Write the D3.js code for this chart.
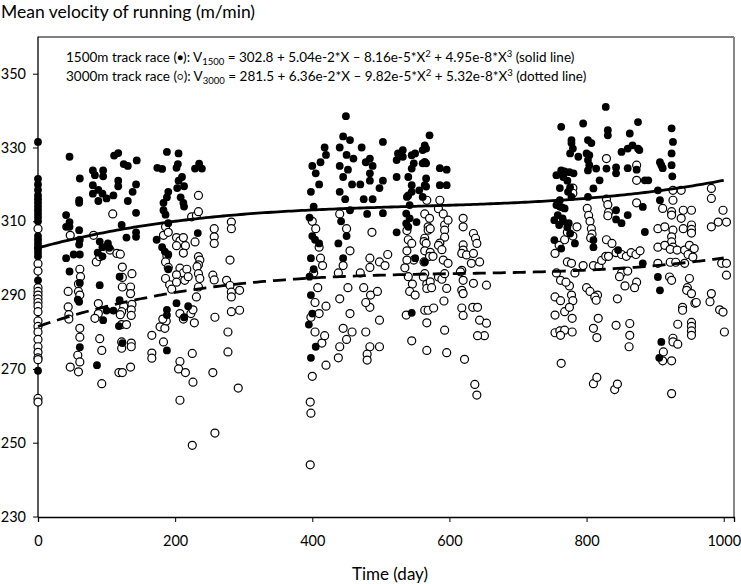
<!DOCTYPE html>
<html>
<head>
<meta charset="utf-8">
<script src="https://cdn.jsdelivr.net/npm/d3@7"></script>
<style>
  body { margin: 0; background: #fff; }
  text { font-family: Lato, "Noto Sans", sans-serif; fill: #000; }
</style>
</head>
<body>
<script>
// 1500m race (filled dots): [day, m/min]
var race1500 = [
  [0,331.5],[0,321.5],[0,320],[0,318.5],[0,317],[0,316],[0,315],[0,314],[0,313],[0,312],[0,311],[0,310],
  [0,306],[0,305],[0,304],[0,303],[0,302.5],[0,301.5],[0,300.5],[0,294],[0,269.5],
  [46,327.5],[41,311.7],[41,308.5],[46,308.5],[46,309.8],[60,315.7],[60,315],[61,321.6],[60,307.6],[61,305],
  [60,303.7],[41,300],[46,296.4],[52,301],[61,301],[61,293.3],[58,288.8],[60,288.2],[61,275.9],
  [80,323.8],[95,323.8],[83,322.5],[95,322.2],[80,319.8],[88,318.5],[94,317.5],[80,317.5],[88,315.5],[100,316.2],
  [90,304.5],[94,303],[102,304],[104,302.8],[87,301.5],[94,300.5],[90,292.7],[95,283.2],[86,271],[100,285.8],[110,285.8],
  [111,327.8],[117,328.5],[125,325.5],[131,325],[117,321],[117,319.5],[110,317],[131,315.5],[122,309],[129,305.6],
  [143,307],[143,305.8],[143,312.3],[144,326.5],[138,318],[143,320],[119,295],[119,288.6],[118,281.6],[123,277],
  [174,324.5],[181,324.2],[188,328.8],[205,328.4],[204,325.5],[202,324.5],[210,322],[205,321],[203,319],[213,319.5],
  [190,318],[188,316.5],[183,315],[183,313],[186,311.8],[208,316.5],[212,315],[213,314],[190,309.5],[173,305],
  [181,303],[185,301.8],[190,301],[190,297],[188,286],[188,284.6],[188,275],[213,284],[219,287],[202,287.8],
  [229,324.3],[235,325.6],[239,324.3],[233,306.8],
  [400,325],[405,323],[410,320],[412,326],[418,330],[420,328],[398,318],[402,314],[396,311],[400,306],[404,305],
  [410,304],[398,300],[402,297],[396,295],[398,290],[400,285],[395,282],[398,273],[405,276],
  [449,338.5],[445,333],[455,332],[440,330],[450,328],[460,327],[440,325],[452,324],[445,322],[458,320],[440,318],
  [448,316],[455,313],[442,310],[450,306],[438,304],[445,300],
  [503,331.5],[484,327],[488,325],[484,323],[484,321],[503,321],[498,319],[488,316],[503,312.2],[472,330],[478,326],
  [470,320],[475,316],[480,312],
  [525,328.4],[532,329.3],[523,326.6],[532,327.5],[545,327.9],[550,328.4],[548,325.7],[545,324.3],[523,322],[540,322],
  [545,319.8],[538,316.6],[540,317],[545,318],[556,318.4],[542,314.4],[537,312.1],[542,310.8],[537,309.4],[540,308.5],
  [552,309.8],[523,307],[550,300],[564,299],[545,285.2],
  [571,333.3],[564,330.6],[561,329.3],[566,329.7],[564,326.1],[566,325.7],[561,325.7],[566,321.6],[564,319.8],[566,319.4],
  [561,316.6],[586,324.4],[596,324],[586,319.8],[596,319.8],
  [763,335.6],[778,332],[778,331.2],[780,329.7],[776,328.4],[788,327.5],[756,322.5],[763,323.8],[768,323.5],[775,323.3],
  [781,323],[766,322],[772,321],[776,319.2],[773,318],[778,316.6],[761,319],[761,315.7],[756,314.4],[761,314],[764,313.8],
  [768,313.5],[758,311.7],[765,310.8],[753,310.3],[760,309],[766,310],[772,308.4],[776,306.7],[774,309.5],[753,304.9],
  [763,302.6],[783,304],
  [828,341],[795,336.5],[802,332],[807,331.2],[800,328.4],[804,327.9],[802,326.6],[804,325.2],[802,323.8],[831,334.7],
  [831,333.3],[814,324.3],[829,324.3],[810,318.9],[819,321.1],[802,316.6],[810,304.9],[810,303],[846,302.2],
  [843,324.6],[843,323],[843,313],[843,310.5],[851,309.5],[860,311.7],[863,333.8],[875,336.9],[860,329.7],[867,330.6],
  [875,329.7],[877,329.3],[851,328.8],[860,324.4],[873,324],[882,313.9],[885,307.1],[885,321.1],[890,321.1],[904,318.4],
  [907,315.7],[882,298.6],[904,294.9],
  [924,335.2],[926,331.5],[924,328.4],[924,325.2],[925,322.2],[907,326],[909,325.2],[911,324.4],[907,291.3],[909,277.3],[906,273]
];

// 3000m race (open circles): [day, m/min]
var race3000 = [
  [0,308],[0,298.5],[0,296.5],[0,292],[0,291],[0,290],[0,289],[0,288],[0,287],[0,285.5],[0,283],[0,281.5],[0,280],
  [0,278],[0,276],[0,274.5],[0,273],[0,272.5],[0,262],[0,261],
  [47,306.2],[61,297],[62,295],[59,293],[59,291],[61,290],[44,291],[44,286.8],[45,284.7],[45,283.5],[61,281],
  [61,278.6],[58,273.7],[61,271.9],[47,270.5],[59,269.2],
  [81,306.2],[85,299],[90,300.4],[88,287.7],[88,285],[83,283.7],[90,278.2],[93,275],[93,266],
  [109,312],[105,302.2],[115,301.3],[120,301.1],[123,297.6],[123,294.8],[123,292.2],[137,295.8],[135,292.2],[135,290.4],
  [137,287.5],[136,286],[136,284.5],[125,287],[122,285.5],[120,284.7],[122,282],[129,282],[122,277.3],[122,275.6],
  [118,269],[123,269],[136,277],[136,276],[135,270.5],
  [183,306.2],[186,308.5],[190,307],[188,300.6],[186,299],[190,297.5],[186,294.5],[192,292.8],[195,291.6],[202,305.6],
  [207,304.7],[212,305.6],[202,303.4],[215,303.4],[212,301.4],[207,297.3],[212,296],[217,297],[214,294],[219,295],
  [202,295.5],[202,293.5],[178,281.4],[183,277.3],[166,279.1],[166,274.3],[166,272.9],[185,281],[187,283],[182,283.5],
  [207,285],[212,283.5],[223,285],[226,286],[228,282.5],[207,272],[205,270],[215,269],[207,261.5],[225,274.2],
  [226,266.4],[225,249.3],
  [224,311.2],[231,311.6],[234,312.6],[234,317],[229,304.4],[234,300.4],[236,299.5],[234,298.2],[232,297.7],[234,295.8],
  [236,294.5],[234,292.2],[231,289.5],
  [257,308],[257,305.8],[257,304],[255,295.4],[257,294.1],[258,284],[255,269],[258,252.6],
  [282,309.8],[282,308],[280,299.5],[275,294],[280,292.6],[282,290.8],[282,289.5],[294,291.3],[294,285.9],[282,285.5],
  [277,280],[277,274.6],[292,264.8],
  [400,310],[405,308],[410,303],[412,300],[402,296],[415,298],[408,292],[404,288],[410,285],[398,284],[420,287],
  [404,280],[414,277],[418,279],[400,268],[420,271],[397,261],[398,258],[397,244],
  [440,312],[450,308],[455,302],[445,298],[438,296],[452,292],[440,289],[455,285],[445,281],[450,278],[440,276],
  [458,280],[438,273],
  [487,307],[484,300],[498,299],[506,298],[510,301],[484,297.5],[484,286.7],[484,276],[498,283.2],[498,276],
  [480,274],[480,272.4],[478,280],[470,296],[475,292],[478,288],[485,290],[495,291],
  [538,307.5],[540,305],[538,302],[545,304],[548,299.5],[538,299.5],[535,297.4],[540,295],[546,293],[542,291],
  [550,290],[537,284.6],[545,277.6],
  [567,315.7],[564,312],[571,310.8],[569,308.5],[569,307.6],[572,308],[564,305.4],[563,304.5],[566,304],[564,302],
  [572,301.6],[571,300.5],[576,300.5],[563,299],[564,295.8],[562,294.9],[567,293],[567,291.8],[572,293.6],[574,292],
  [564,285.9],[569,285.9],[567,282.5],[577,286.5],[567,275],
  [586,315.7],[584,313.4],[591,312],[593,309],[598,310.3],[593,307.6],[593,305.7],[586,304.1],[584,303.5],[589,302.3],
  [591,299.5],[598,298.6],[584,294.9],[589,294.3],[593,295.8],[596,291.8],[592,288.4],[593,280.5],[596,274.4],
  [620,310.8],[620,308.5],[620,303.6],[620,302.2],[618,301.3],[625,300.9],[635,306.7],[638,305.4],[640,304],[635,301.3],
  [632,298.6],[644,299],[618,296.7],[616,296.3],[620,294],[618,291.3],[620,290.4],[635,293.2],[654,292.7],
  [618,286.5],[620,284.5],[634,286.7],[641,286.7],[644,283.2],[654,282.4],[651,279],[641,279],[622,272.6],
  [637,265.8],[640,262.9],
  [754,301.3],[760,303.5],[768,305],[772,307],[780,306],[786,308.5],[780,319],[780,317.6],[772,299],[778,298.6],
  [756,296],[762,294],[775,292.5],[770,293.5],[783,296],[754,289.5],[762,288.5],[778,290],[780,288.5],
  [754,284.6],[768,285.5],[775,286.7],[779,283.7],[754,279.8],[761,280.3],[768,280.5],[762,279.1],[779,280],[763,271.5],
  [801,313.5],[803,311.6],[805,310],[807,308],[808,306.5],[806,305.5],[829,327],[829,316],[831,314.5],[832,312.4],
  [831,311.5],[829,305],[837,304],[795,298],[810,298],[818,297.8],[822,299.4],[828,300.5],[832,300.5],[800,292],
  [805,291],[816,290],[812,289.5],[814,288.6],[817,283.7],[810,281],[815,278.5],[810,266],[815,267.7],[843,281.8],
  [841,264.4],[845,265.9],[863,282.3],[863,279.1],[862,276],
  [843,301.5],[851,301],[858,300.5],[865,301.5],[872,301],[878,302],[873,325.2],[873,321.1],[873,315],[873,293.5],
  [851,296],[860,296.5],[848,295],[856,292.5],[870,292],[845,289],
  [926,318.4],[938,318.4],[926,315.7],[911,313.5],[924,312.6],[924,311.7],[941,313],[938,310.8],[953,313],[904,308],
  [914,308.5],[926,307.6],[924,305.8],[924,304.4],[941,308],[953,309],[953,307.8],[953,306.8],[904,303],[914,303.5],
  [926,303],[922,302.4],[932,302.2],[943,302.2],[950,303.5],[957,302.6],[948,301],[955,300.3],[904,298.6],[922,298.9],
  [930,298.9],[943,298.6],[921,294.9],[924,294],[950,294.5],[947,292],[946,291.3],[953,290.4],
  [926,278.3],[926,277.3],[933,276.7],[912,274.6],[911,272.2],[924,272.2],[924,263.3],[933,282.1],[953,282.6],
  [953,281.5],[953,280.3],[953,279.1],[940,286.7],[940,285.9],[958,287.8],[960,288],
  [982,318.9],[982,316.2],[999,313],[992,309.8],[1004,309.8],[982,308.5],[997,298.6],[1004,298.6],[1004,295.4],
  [982,290.4],[994,286],[999,285.4],[1001,280],[980,288.2]
];

// cubic fits: a + b*X + c*X^2 + d*X^3
var fit1500 = [302.8, 5.04e-2, -8.16e-5, 4.95e-8];
var fit3000 = [281.5, 6.36e-2, -9.82e-5, 5.32e-8];

var yTicks = [230, 250, 270, 290, 310, 330, 350];
var xTicks = [0, 200, 400, 600, 800, 1000];

var width = 741, height = 584;
var svg = d3.select("body").append("svg")
  .attr("width", width)
  .attr("height", height);

var x = d3.scaleLinear().domain([0, 1015]).range([38, 734]);
var y = d3.scaleLinear().domain([230, 360]).range([516.5, 36.8]);

// frame
svg.append("line").attr("x1", 38).attr("x2", 734).attr("y1", 37).attr("y2", 37)
  .attr("stroke", "#000").attr("stroke-width", 1);
svg.append("line").attr("x1", 734).attr("x2", 734).attr("y1", 37).attr("y2", 517)
  .attr("stroke", "#888").attr("stroke-width", 2);

// axes
var yAxis = svg.append("g")
  .attr("transform", "translate(38,0)")
  .call(d3.axisLeft(y).tickValues(yTicks).tickSize(5).tickPadding(7));
var xAxis = svg.append("g")
  .attr("transform", "translate(0,517)")
  .call(d3.axisBottom(x).tickValues(xTicks).tickFormat(d3.format("d")).tickSize(5).tickPadding(14));
[yAxis, xAxis].forEach(function (g) {
  g.select(".domain").attr("stroke", "#000").attr("stroke-width", 1.3);
  g.selectAll(".tick line").attr("stroke", "#000");
  g.selectAll("text").style("font-size", "14.5px").style("font-family", "Lato, sans-serif");
});
yAxis.select(".domain").attr("d", "M0,36.8V517");

// points
svg.append("g").selectAll("circle")
  .data(race3000).enter().append("circle")
  .attr("cx", function (d) { return x(d[0]); })
  .attr("cy", function (d) { return y(d[1]); })
  .attr("r", 4)
  .attr("fill", "#fff").attr("stroke", "#000").attr("stroke-width", 1.2);

svg.append("g").selectAll("circle")
  .data(race1500).enter().append("circle")
  .attr("cx", function (d) { return x(d[0]); })
  .attr("cy", function (d) { return y(d[1]); })
  .attr("r", 3.9)
  .attr("fill", "#000");

// fitted curves
function poly(c, t) { return c[0] + c[1] * t + c[2] * t * t + c[3] * t * t * t; }
var days = d3.range(0, 1001, 5);
var line = d3.line()
  .x(function (d) { return x(d[0]); })
  .y(function (d) { return y(d[1]); });

svg.append("path")
  .attr("d", line(days.map(function (t) { return [t, poly(fit1500, t)]; })))
  .attr("fill", "none").attr("stroke", "#000").attr("stroke-width", 2.8);
svg.append("path")
  .attr("d", line(days.map(function (t) { return [t, poly(fit3000, t)]; })))
  .attr("fill", "none").attr("stroke", "#000").attr("stroke-width", 2.8)
  .attr("stroke-dasharray", "13,7");

// titles
svg.append("text").attr("x", 1).attr("y", 18)
  .style("font-size", "17.5px").text("Mean velocity of running (m/min)");
svg.append("text").attr("x", 390).attr("y", 580).attr("text-anchor", "middle")
  .style("font-size", "17px").text("Time (day)");

// equations
var eqs = [
  { lead: "1500m track race (", sym: "\u25CF", sub: "1500", c: ["302.8", "5.04e-2", "8.16e-5", "4.95e-8"], tail: " (solid line)" },
  { lead: "3000m track race (", sym: "\u25CB", sub: "3000", c: ["281.5", "6.36e-2", "9.82e-5", "5.32e-8"], tail: " (dotted line)" }
];
eqs.forEach(function (e, i) {
  var t = svg.append("text").attr("x", 66).attr("y", 62 + i * 19).style("font-size", "13.5px");
  t.append("tspan").text(e.lead);
  t.append("tspan").style("font-size", "10px").attr("dy", -1).text(e.sym);
  t.append("tspan").attr("dy", 1).text("): V");
  t.append("tspan").style("font-size", "9.5px").attr("dy", 3).text(e.sub);
  t.append("tspan").attr("dy", -3).text(" = " + e.c[0] + " + " + e.c[1] + "*X \u2013 " + e.c[2] + "*X");
  t.append("tspan").style("font-size", "9.5px").attr("dy", -5).text("2");
  t.append("tspan").attr("dy", 5).text("  + " + e.c[3] + "*X");
  t.append("tspan").style("font-size", "9.5px").attr("dy", -5).text("3");
  t.append("tspan").attr("dy", 5).text(e.tail);
});
</script>
</body>
</html>
